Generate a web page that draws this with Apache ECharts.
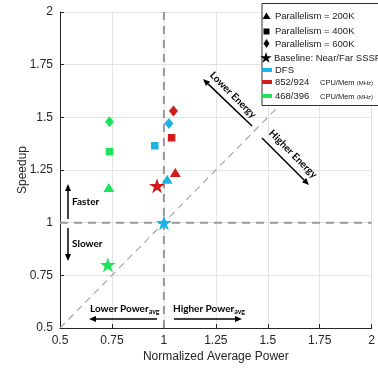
<!DOCTYPE html>
<html lang="en">
<head>
<meta charset="UTF-8">
<title>Speedup vs Normalized Average Power</title>
<script src="https://cdn.jsdelivr.net/npm/echarts@6/dist/echarts.min.js"></script>
<style>html,body{margin:0;padding:0;background:#fff;} #chart{width:378px;height:372px;}</style>
</head>
<body>
<div id="chart"></div>
<script>
// marker order: 200K (triangle), 400K (square), 600K (diamond), baseline (star)
var markers = ['200K', '400K', '600K', 'Baseline'];
var dfsPower = [1.016, 0.956, 1.024, 1.0];
var dfsSpeedup = [1.206, 1.365, 1.471, 1.0];
var hiPower = [1.055, 1.037, 1.046, 0.967];
var hiSpeedup = [1.238, 1.403, 1.53, 1.175];
var loPower = [0.735, 0.738, 0.738, 0.730];
var loSpeedup = [1.167, 1.337, 1.479, 0.80];
var ticks = [0.5, 0.75, 1, 1.25, 1.5, 1.75, 2];

var BLUE = '#1ab4e6', RED = '#d21c1c', GREEN = '#1ee35a';

// 5-point star path
function starPoints(cx, cy, r) {
    var p = [];
    for (var i = 0; i < 10; i++) {
        var a = (-90 + i * 36) * Math.PI / 180;
        var rr = i % 2 ? r * 0.382 : r;
        p.push([cx + rr * Math.cos(a), cy + rr * Math.sin(a)]);
    }
    return p;
}
var starPath = 'path://M' + starPoints(0, 0, 1).map(function (q) {
    return q[0].toFixed(3) + ' ' + q[1].toFixed(3);
}).join(' L') + ' Z';

var symbolOf = ['triangle', 'rect', 'diamond', starPath];
var sizeOf = [[11, 9], 7.5, [9, 11], [16, 15]];

function pts(px, py) {
    return px.map(function (x, i) {
        return { value: [x, py[i]], symbol: symbolOf[i], symbolSize: sizeOf[i] };
    });
}

function arrow(x1, y1, x2, y2) {
    var a = Math.atan2(y2 - y1, x2 - x1), L = 7, W = 3;
    var bx = x2 - L * Math.cos(a), by = y2 - L * Math.sin(a);
    return [
        { type: 'line', z: 100, shape: { x1: x1, y1: y1, x2: bx, y2: by }, style: { stroke: '#000', lineWidth: 1.5 } },
        { type: 'polygon', z: 100, shape: { points: [[x2, y2], [bx + W * Math.sin(a), by - W * Math.cos(a)], [bx - W * Math.sin(a), by + W * Math.cos(a)]] }, style: { fill: '#000' } }
    ];
}

var annFont = 'bold 10px Lato';
function label(text, x, y, align, rot) {
    return {
        type: 'text', z: 100, x: x, y: y, rotation: rot || 0,
        style: {
            text: text, fill: '#000', font: annFont, align: align || 'left', verticalAlign: 'middle',
            rich: {
                a: { font: annFont, fill: '#000' },
                b: { font: 'bold 7px Lato', fill: '#000', padding: [6, 0, 0, 0] }
            }
        }
    };
}

var legFont = '9.5px "Liberation Sans"';
function legText(text, x, y) {
    return {
        type: 'text', z: 110, x: x, y: y,
        style: {
            text: text, fill: '#1a1a1a', font: legFont, align: 'left', verticalAlign: 'middle',
            rich: {
                c: { font: '7.5px "Liberation Sans"', fill: '#1a1a1a' },
                m: { font: '6px "Liberation Sans"', fill: '#1a1a1a' }
            }
        }
    };
}

var graphics = [];
graphics = graphics
    .concat(arrow(68, 219, 68, 184), [label('Faster', 72, 202)])
    .concat(arrow(68, 228, 68, 261), [label('Slower', 72, 244)])
    .concat(arrow(157, 319, 89, 319), [label('{a|Lower Power}{b|avg}', 90, 309)])
    .concat(arrow(174, 319, 242, 319), [label('{a|Higher Power}{b|avg}', 173, 309)])
    .concat(arrow(252, 126, 203, 79), [label('Lower Energy', 233, 95, 'center', -Math.PI / 4)])
    .concat(arrow(262, 138, 309, 185), [label('Higher Energy', 293, 154, 'center', -Math.PI / 4)]);

// legend box
graphics.push({ type: 'rect', z: 105, shape: { x: 262, y: 3.5, width: 130, height: 102 }, style: { fill: '#fff', stroke: '#333', lineWidth: 1 } });
graphics.push({ type: 'polygon', z: 110, shape: { points: [[266.5, 12.5], [270.5, 19], [262.5, 19]] }, style: { fill: '#000' } });
graphics.push({ type: 'rect', z: 110, shape: { x: 263.5, y: 28.5, width: 6, height: 6 }, style: { fill: '#000' } });
graphics.push({ type: 'polygon', z: 110, shape: { points: [[266.5, 39], [269.5, 43.5], [266.5, 48], [263.5, 43.5]] }, style: { fill: '#000' } });
graphics.push({ type: 'polygon', z: 110, shape: { points: starPoints(266, 58, 6) }, style: { fill: '#000' } });
graphics.push({ type: 'rect', z: 110, shape: { x: 262, y: 68, width: 10, height: 4 }, style: { fill: BLUE } });
graphics.push({ type: 'rect', z: 110, shape: { x: 262, y: 80, width: 10, height: 4 }, style: { fill: RED } });
graphics.push({ type: 'rect', z: 110, shape: { x: 262, y: 94, width: 10, height: 4 }, style: { fill: GREEN } });
graphics.push(legText('Parallelism = ' + markers[0], 275, 16));
graphics.push(legText('Parallelism = ' + markers[1], 275, 31.5));
graphics.push(legText('Parallelism = ' + markers[2], 275, 44));
graphics.push(legText('Baseline: Near/Far SSSP', 274, 58));
graphics.push(legText('DFS', 275, 70.5));
graphics.push(legText('852/924', 275, 82));
graphics.push(legText('{c|CPU/Mem }{m|(MHz)}', 320, 83));
graphics.push(legText('468/396', 275, 96));
graphics.push(legText('{c|CPU/Mem }{m|(MHz)}', 320, 97));

function axisCfg(name, gap) {
    return {
        type: 'value', min: ticks[0], max: ticks[ticks.length - 1], interval: 0.25,
        name: name, nameLocation: 'middle', nameGap: gap, nameMoveOverlap: false,
        nameTextStyle: { fontFamily: 'Liberation Sans', fontSize: 12, color: '#262626' },
        axisLine: { show: true, onZero: false, lineStyle: { color: '#262626', width: 1 } },
        axisTick: { show: true, inside: true, length: 4, lineStyle: { color: '#262626' } },
        axisLabel: { fontFamily: 'Liberation Sans', fontSize: 12, color: '#262626', margin: 7 },
        splitLine: { show: true, lineStyle: { color: '#e3e3e3', width: 1 } }
    };
}

function refLine(data, width, dash, color) {
    return {
        type: 'line', data: data, symbol: 'none', silent: true, z: 1,
        lineStyle: { color: color, width: width, type: dash }
    };
}

var chart = echarts.init(document.getElementById('chart'));
chart.setOption({
    animation: false,
    grid: { left: 60, right: 3, top: 12, bottom: 44 },
    xAxis: axisCfg('Normalized Average Power', 23),
    yAxis: axisCfg('Speedup', 31),
    graphic: graphics,
    series: [
        refLine([[ticks[0], ticks[0]], [ticks[6], ticks[6]]], 1.2, [7, 5], '#a8a8a8'),
        refLine([[1, ticks[0]], [1, ticks[6]]], 2, [8, 6], '#999'),
        refLine([[ticks[0], 1], [ticks[6], 1]], 2, [8, 6], '#999'),
        { type: 'scatter', name: 'DFS', z: 3, itemStyle: { color: BLUE, opacity: 1 }, data: pts(dfsPower, dfsSpeedup) },
        { type: 'scatter', name: '852/924', z: 3, itemStyle: { color: RED, opacity: 1 }, data: pts(hiPower, hiSpeedup) },
        { type: 'scatter', name: '468/396', z: 3, itemStyle: { color: GREEN, opacity: 1 }, data: pts(loPower, loSpeedup) }
    ]
});
</script>
</body>
</html>
